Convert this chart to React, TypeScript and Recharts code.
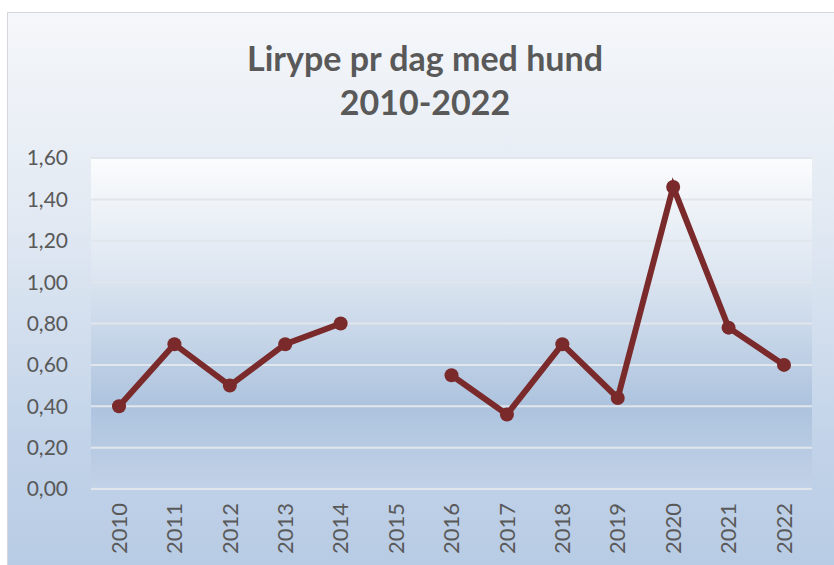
import React from "react";
import { CartesianGrid, Line, LineChart, XAxis, YAxis } from "recharts";

// Lirype pr dag med hund, 2010-2022 (2015 mangler)
const years = ["2010", "2011", "2012", "2013", "2014", "2015", "2016", "2017", "2018", "2019", "2020", "2021", "2022"];
const perDay: (number | null)[] = [0.4, 0.7, 0.5, 0.7, 0.8, null, 0.55, 0.36, 0.7, 0.44, 1.46, 0.78, 0.6];
const yTicks = [0, 0.2, 0.4, 0.6, 0.8, 1.0, 1.2, 1.4, 1.6];

const LINE_COLOR = "#7a2a2a";
const TEXT_COLOR = "#595959";
const FONT = "Lato, 'Open Sans', sans-serif";

const data = years.map((year, i) => ({ year, value: perDay[i] }));

function YearTick({ x, y, payload }: any) {
  return (
    <text
      x={x}
      y={y}
      transform={`rotate(-90, ${x}, ${y})`}
      textAnchor="end"
      dy="0.35em"
      fill={TEXT_COLOR}
      fontSize={22}
      fontFamily={FONT}
    >
      {payload.value}
    </text>
  );
}

export default function App() {
  return (
    <div style={{ position: "absolute", left: 0, top: 0, width: 834, height: 565, background: "#fff", overflow: "hidden" }}>
      <div
        style={{
          position: "absolute",
          left: 7,
          top: 12,
          width: 840,
          height: 560,
          border: "1px solid #d4d8dd",
          background: "linear-gradient(180deg, #f5f7fa 0%, #e3eaf3 35%, #c3d4e9 75%, #b7cbe4 100%)",
        }}
      />
      <div
        style={{
          position: "absolute",
          left: 0,
          top: 36,
          width: 850,
          textAlign: "center",
          fontFamily: FONT,
          fontWeight: 700,
          fontSize: 34,
          lineHeight: "44px",
          color: TEXT_COLOR,
        }}
      >
        Lirype pr dag med hund
        <br />
        2010-2022
      </div>
      <div style={{ position: "absolute", left: 0, top: 0 }}>
        <LineChart width={834} height={565} data={data} margin={{ top: 158, right: 22, left: 11, bottom: 0 }}>
          <defs>
            <linearGradient id="plotBg" x1="0" y1="0" x2="0" y2="1">
              <stop offset="0%" stopColor="#fbfcfd" />
              <stop offset="35%" stopColor="#dde6f1" />
              <stop offset="75%" stopColor="#adc3de" />
              <stop offset="100%" stopColor="#c2d2e7" />
            </linearGradient>
          </defs>
          <CartesianGrid vertical={false} stroke="#e1e6ec" strokeWidth={2} fill="url(#plotBg)" />
          <XAxis
            dataKey="year"
            height={76}
            padding={{ left: 28, right: 28 }}
            axisLine={false}
            tickLine={false}
            tickSize={0}
            tickMargin={14}
            interval={0}
            tick={<YearTick />}
          />
          <YAxis
            width={80}
            domain={[0, 1.6]}
            ticks={yTicks}
            axisLine={false}
            tickLine={false}
            tickSize={0}
            tickMargin={23}
            tickFormatter={(v: number) => v.toFixed(2).replace(".", ",")}
            tick={{ fill: TEXT_COLOR, fontSize: 21, fontFamily: FONT }}
          />
          <Line
            dataKey="value"
            stroke={LINE_COLOR}
            strokeWidth={6}
            dot={{ r: 7, fill: LINE_COLOR, stroke: LINE_COLOR, strokeWidth: 0 }}
            activeDot={false}
            connectNulls={false}
            isAnimationActive={false}
          />
        </LineChart>
      </div>
    </div>
  );
}
